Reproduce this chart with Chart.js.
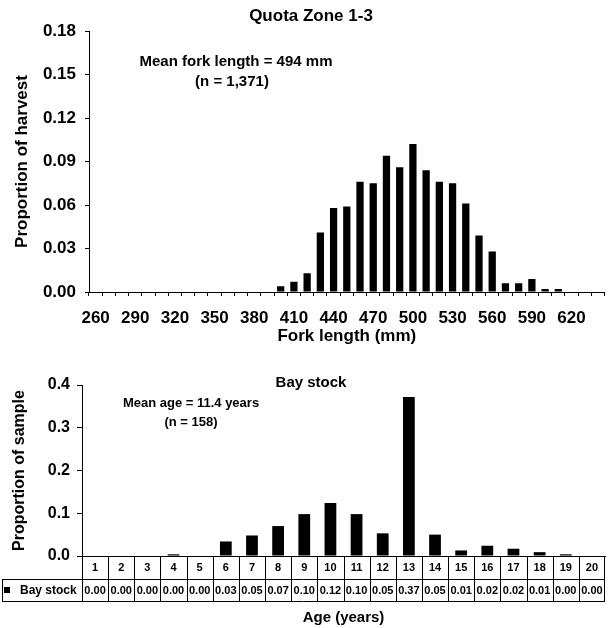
<!DOCTYPE html>
<html>
<head>
<meta charset="utf-8">
<script src="https://cdn.jsdelivr.net/npm/chart.js@4.4.0/dist/chart.umd.min.js"></script>
<style>
  html, body { margin: 0; padding: 0; background: #fff; }
  #wrap { position: relative; width: 610px; height: 628px; }
  canvas { position: absolute; left: 0; }
  #lengthChart { top: 0; }
  #ageChart { top: 345px; }
</style>
</head>
<body>
<div id="wrap">
  <canvas id="lengthChart" width="610" height="345"></canvas>
  <canvas id="ageChart" width="610" height="283"></canvas>
</div>
<script>
// fork length bins (mm), Quota Zone 1-3 harvest
const lengthBins = [260, 270, 280, 290, 300, 310, 320, 330, 340, 350, 360, 370, 380, 390,
  400, 410, 420, 430, 440, 450, 460, 470, 480, 490, 500, 510, 520, 530, 540, 550,
  560, 570, 580, 590, 600, 610, 620, 630, 640];
const harvestShare = [0, 0, 0, 0, 0, 0, 0, 0, 0, 0, 0, 0, 0, 0,
  0.004, 0.007, 0.013, 0.041, 0.058, 0.059, 0.076, 0.075, 0.094, 0.086, 0.102, 0.084,
  0.076, 0.075, 0.061, 0.039, 0.028, 0.006, 0.006, 0.009, 0.002, 0.002, 0, 0, 0];
const lengthTickLabels = [260, 290, 320, 350, 380, 410, 440, 470, 500, 530, 560, 590, 620];

// age classes, Bay stock sample
const ageClasses = [1, 2, 3, 4, 5, 6, 7, 8, 9, 10, 11, 12, 13, 14, 15, 16, 17, 18, 19, 20];
const sampleShare = [0, 0, 0, 0.004, 0, 0.034, 0.048, 0.070, 0.098, 0.124, 0.098, 0.053,
  0.372, 0.050, 0.013, 0.024, 0.017, 0.009, 0.004, 0];

const FONT = "'Liberation Sans', Arial, sans-serif";
Chart.defaults.font.family = FONT;
Chart.defaults.color = '#000';

// draws the little text notes (titles, mean / n labels)
const notes = (items) => ({
  id: 'notes',
  afterDraw(chart) {
    const ctx = chart.ctx;
    ctx.save();
    ctx.fillStyle = '#000';
    ctx.textAlign = 'center';
    ctx.textBaseline = 'middle';
    items.forEach(t => {
      ctx.font = 'bold ' + t.size + 'px ' + FONT;
      ctx.fillText(t.text, t.x, t.y);
    });
    ctx.restore();
  }
});

new Chart(document.getElementById('lengthChart'), {
  type: 'bar',
  data: {
    labels: lengthBins,
    datasets: [{
      data: harvestShare,
      backgroundColor: '#000',
      barPercentage: 0.55,
      categoryPercentage: 1
    }]
  },
  options: {
    responsive: false,
    animation: false,
    devicePixelRatio: 1,
    layout: { padding: { top: 31, right: 1, left: 0, bottom: 0 } },
    plugins: { legend: { display: false }, tooltip: { enabled: false } },
    scales: {
      x: {
        offset: true,
        grid: { offset: true, drawOnChartArea: false, drawTicks: true, tickLength: 4, color: '#000' },
        border: { display: true, color: '#000' },
        ticks: {
          autoSkip: false, maxRotation: 0, padding: 12,
          font: { size: 17, weight: 'bold' },
          callback: (v, i) => lengthTickLabels.includes(lengthBins[i]) ? String(lengthBins[i]) : ''
        },
        title: { display: true, text: 'Fork length (mm)', font: { size: 17, weight: 'bold' }, padding: { top: 0, bottom: -2 } },
        afterFit: s => { s.height = 53; }
      },
      y: {
        min: 0, max: 0.18,
        grid: { drawOnChartArea: false, drawTicks: true, tickLength: 4, color: '#000' },
        border: { display: true, color: '#000' },
        ticks: { stepSize: 0.03, padding: 9, font: { size: 17, weight: 'bold' }, callback: v => v.toFixed(2) },
        title: { display: true, text: 'Proportion of harvest', font: { size: 17, weight: 'bold' }, padding: { top: 12, bottom: 0 } },
        afterFit: s => { s.width = 89; }
      }
    }
  },
  plugins: [notes([
    { text: 'Quota Zone 1-3', x: 311, y: 16, size: 17 },
    { text: 'Mean fork length = 494 mm', x: 236, y: 62, size: 15 },
    { text: '(n = 1,371)', x: 232, y: 82, size: 15 }
  ])]
});

// data table under the age chart
const dataTable = {
  id: 'dataTable',
  afterDraw(chart) {
    const { ctx, chartArea } = chart;
    const xs = chart.scales.x;
    const w = (chartArea.right - chartArea.left) / ageClasses.length;
    const px = v => Math.round(v) + 0.5;
    const top = chartArea.bottom, mid = top + 22.5, bot = mid + 22;
    const legLeft = 2;
    ctx.save();
    ctx.strokeStyle = '#000';
    ctx.lineWidth = 1;
    ctx.beginPath();
    ctx.moveTo(legLeft, px(mid)); ctx.lineTo(chartArea.right, px(mid));
    ctx.moveTo(legLeft, px(bot)); ctx.lineTo(chartArea.right, px(bot));
    ctx.moveTo(px(legLeft), px(mid)); ctx.lineTo(px(legLeft), px(bot));
    ageClasses.forEach((a, i) => {
      const b = px(xs.getPixelForValue(i) - w / 2);
      ctx.moveTo(b, px(top)); ctx.lineTo(b, px(bot));
    });
    const r = px(chartArea.right - 1);
    ctx.moveTo(r, px(top)); ctx.lineTo(r, px(bot));
    ctx.stroke();

    ctx.fillStyle = '#000';
    ctx.textAlign = 'center';
    ctx.textBaseline = 'middle';
    ctx.font = 'bold 11px ' + FONT;
    ageClasses.forEach((a, i) => {
      const cx = xs.getPixelForValue(i);
      ctx.fillText(String(a), cx, (top + mid) / 2 + 1);
      ctx.fillText(sampleShare[i].toFixed(2), cx, (mid + bot) / 2 + 1);
    });
    ctx.fillRect(4, Math.round((mid + bot) / 2) - 3, 6, 6);
    ctx.textAlign = 'left';
    ctx.font = 'bold 12px ' + FONT;
    ctx.fillText('Bay stock', 20, (mid + bot) / 2 + 1);
    ctx.restore();
  }
};

new Chart(document.getElementById('ageChart'), {
  type: 'bar',
  data: {
    labels: ageClasses,
    datasets: [{
      label: 'Bay stock',
      data: sampleShare,
      backgroundColor: '#000',
      barPercentage: 0.45,
      categoryPercentage: 1
    }]
  },
  options: {
    responsive: false,
    animation: false,
    devicePixelRatio: 1,
    layout: { padding: { top: 40, right: 5, left: 0, bottom: 0 } },
    plugins: { legend: { display: false }, tooltip: { enabled: false } },
    scales: {
      x: {
        offset: true,
        grid: { display: false },
        border: { display: true, color: '#000' },
        ticks: { display: false },
        title: { display: true, text: 'Age (years)', font: { size: 15, weight: 'bold' }, padding: { top: 0, bottom: 1 } },
        afterFit: s => { s.height = 72; }
      },
      y: {
        min: 0, max: 0.4,
        grid: { drawOnChartArea: false, drawTicks: true, tickLength: 5, color: '#000' },
        border: { display: true, color: '#000' },
        ticks: { stepSize: 0.1, padding: 7, font: { size: 16, weight: 'bold' }, callback: v => v.toFixed(1) },
        title: { display: true, text: 'Proportion of sample', font: { size: 16, weight: 'bold' }, padding: { top: 10, bottom: 0 } },
        afterFit: s => { s.width = 82; }
      }
    }
  },
  plugins: [dataTable, notes([
    { text: 'Bay stock', x: 311, y: 38, size: 15 },
    { text: 'Mean age = 11.4 years', x: 191, y: 58, size: 13 },
    { text: '(n = 158)', x: 191, y: 77, size: 13 }
  ])]
});
</script>
</body>
</html>
